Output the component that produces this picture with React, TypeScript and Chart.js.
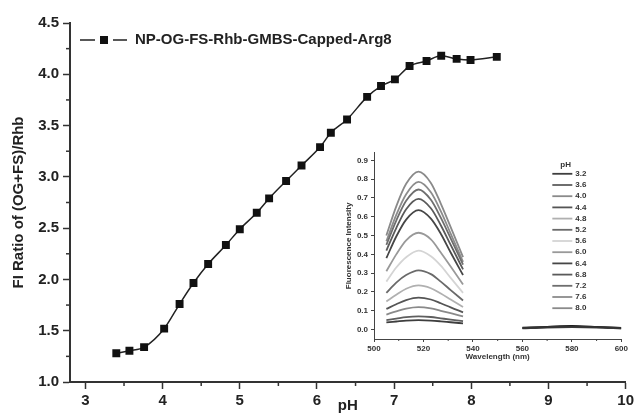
import React, { useEffect, useRef } from 'react';
import { Chart, registerables } from 'chart.js';

Chart.register(...registerables);

const FONT = "'Liberation Sans', Arial, Helvetica, sans-serif";

// ---------- main chart data ----------
const phPoints = [3.4, 3.57, 3.76, 4.02, 4.22, 4.4, 4.59, 4.82, 5.0, 5.22, 5.38, 5.6, 5.8, 6.04, 6.18, 6.39, 6.65, 6.83, 7.01, 7.2, 7.42, 7.61, 7.81, 7.99, 8.33];
const fiRatio = [1.28, 1.305, 1.34, 1.52, 1.76, 1.965, 2.15, 2.335, 2.49, 2.65, 2.79, 2.96, 3.11, 3.29, 3.43, 3.56, 3.78, 3.885, 3.95, 4.08, 4.13, 4.18, 4.15, 4.14, 4.17];
const mainSeriesName = 'NP-OG-FS-Rhb-GMBS-Capped-Arg8';
const mainXTitle = 'pH';
const mainYTitle = 'FI Ratio of (OG+FS)/Rhb';
const mainXMinorTicks = [3.5, 4.5, 5.5, 6.5, 7.5, 8.5, 9.5];
const mainYMinorTicks = [1.25, 1.75, 2.25, 2.75, 3.25, 3.75, 4.25];

// ---------- inset data ----------
const wavelengths = [505, 509, 513, 518, 523, 527, 531, 536];
const spectrumPh32 = [0.038, 0.043, 0.048, 0.05, 0.048, 0.044, 0.039, 0.033];
const spectrumPh36 = [0.05, 0.058, 0.066, 0.07, 0.067, 0.06, 0.053, 0.045];
const spectrumPh40 = [0.08, 0.097, 0.112, 0.12, 0.113, 0.1, 0.087, 0.07];
const spectrumPh44 = [0.11, 0.135, 0.157, 0.17, 0.16, 0.14, 0.118, 0.092];
const spectrumPh48 = [0.15, 0.185, 0.217, 0.235, 0.22, 0.192, 0.16, 0.12];
const spectrumPh52 = [0.195, 0.25, 0.29, 0.315, 0.295, 0.255, 0.21, 0.155];
const spectrumPh56 = [0.255, 0.33, 0.385, 0.42, 0.39, 0.34, 0.275, 0.195];
const spectrumPh60 = [0.31, 0.4, 0.475, 0.515, 0.48, 0.41, 0.335, 0.24];
const spectrumPh64 = [0.38, 0.495, 0.585, 0.635, 0.59, 0.51, 0.41, 0.29];
const spectrumPh68 = [0.42, 0.54, 0.64, 0.695, 0.645, 0.555, 0.45, 0.32];
const spectrumPh72 = [0.45, 0.58, 0.685, 0.745, 0.69, 0.595, 0.485, 0.345];
const spectrumPh76 = [0.47, 0.61, 0.72, 0.785, 0.73, 0.63, 0.51, 0.36];
const spectrumPh80 = [0.5, 0.655, 0.775, 0.84, 0.78, 0.67, 0.545, 0.385];
const insetPhLabels = ['3.2', '3.6', '4.0', '4.4', '4.8', '5.2', '5.6', '6.0', '6.4', '6.8', '7.2', '7.6', '8.0'];
const insetSpectra = [spectrumPh32, spectrumPh36, spectrumPh40, spectrumPh44, spectrumPh48, spectrumPh52, spectrumPh56, spectrumPh60, spectrumPh64, spectrumPh68, spectrumPh72, spectrumPh76, spectrumPh80];
const insetColors = ['#3e3e3e', '#5e5e5e', '#8a8a8a', '#555555', '#b0b0b0', '#6a6a6a', '#d4d4d4', '#999999', '#464646', '#5a5a5a', '#6e6e6e', '#8c8c8c', '#8a8a8a'];
const rhbWavelengths = [560, 570, 580, 590, 600];
const rhbSpectrumA = [0.008, 0.013, 0.016, 0.013, 0.007];
const rhbSpectrumB = [0.006, 0.011, 0.013, 0.011, 0.006];
const rhbSpectrumC = [0.01, 0.015, 0.019, 0.015, 0.009];
const insetXTitle = 'Wavelength (nm)';
const insetYTitle = 'Fluorescence Intensity';
const insetLegendTitle = 'pH';
const insetXMinorTicks = [510, 530, 550, 570, 590];

const mainDecor = {
  id: 'mainDecor',
  afterDraw(chart: any) {
    const ctx = chart.ctx;
    const xs = chart.scales.x;
    const ys = chart.scales.y;
    const a = chart.chartArea;
    ctx.save();
    ctx.strokeStyle = '#333';
    ctx.lineWidth = 1.5;
    for (const v of mainXMinorTicks) {
      const px = xs.getPixelForValue(v);
      ctx.beginPath();
      ctx.moveTo(px, a.bottom);
      ctx.lineTo(px, a.bottom + 4);
      ctx.stroke();
    }
    for (const v of mainYMinorTicks) {
      const py = ys.getPixelForValue(v);
      ctx.beginPath();
      ctx.moveTo(a.left, py);
      ctx.lineTo(a.left - 4, py);
      ctx.stroke();
    }
    // legend
    const ly = a.top + 17;
    ctx.strokeStyle = '#222';
    ctx.lineWidth = 1.5;
    ctx.beginPath();
    ctx.moveTo(a.left + 10, ly);
    ctx.lineTo(a.left + 25, ly);
    ctx.moveTo(a.left + 43, ly);
    ctx.lineTo(a.left + 57, ly);
    ctx.stroke();
    ctx.fillStyle = '#111';
    ctx.fillRect(a.left + 30, ly - 4, 8, 8);
    ctx.font = `bold 15px ${FONT}`;
    ctx.textBaseline = 'middle';
    ctx.textAlign = 'left';
    ctx.fillStyle = '#222';
    ctx.fillText(chart.data.datasets[0].label, a.left + 65, ly);
    ctx.restore();
  },
};

const insetDecor = {
  id: 'insetDecor',
  afterDraw(chart: any) {
    const ctx = chart.ctx;
    const xs = chart.scales.x;
    const a = chart.chartArea;
    ctx.save();
    ctx.strokeStyle = '#444';
    ctx.lineWidth = 1;
    for (const v of insetXMinorTicks) {
      const px = xs.getPixelForValue(v);
      ctx.beginPath();
      ctx.moveTo(px, a.bottom);
      ctx.lineTo(px, a.bottom + 2);
      ctx.stroke();
    }
    const lx = a.right - 69;
    ctx.font = `bold 8px ${FONT}`;
    ctx.textBaseline = 'middle';
    ctx.textAlign = 'left';
    ctx.fillStyle = '#333';
    ctx.fillText(insetLegendTitle, lx + 8, a.top + 12);
    for (let i = 0; i < insetPhLabels.length; i++) {
      const y = a.top + 21 + i * 11.2;
      ctx.strokeStyle = insetColors[i];
      ctx.lineWidth = 1.8;
      ctx.beginPath();
      ctx.moveTo(lx, y);
      ctx.lineTo(lx + 20, y);
      ctx.stroke();
      ctx.fillStyle = '#333';
      ctx.fillText(insetPhLabels[i], lx + 23, y);
    }
    ctx.restore();
  },
};

export default function App() {
  const mainRef = useRef<HTMLCanvasElement>(null);
  const insetRef = useRef<HTMLCanvasElement>(null);

  useEffect(() => {
    const tickFont = { family: FONT, size: 15, weight: 'bold' as const };
    const main = new Chart(mainRef.current!, {
      type: 'line',
      data: {
        datasets: [
          {
            label: mainSeriesName,
            data: phPoints.map((x, i) => ({ x, y: fiRatio[i] })),
            borderColor: '#222',
            borderWidth: 1.5,
            backgroundColor: '#111',
            pointStyle: 'rect',
            pointRadius: 5.6,
            pointBorderWidth: 0,
            pointBackgroundColor: '#111',
            cubicInterpolationMode: 'monotone',
          },
        ],
      },
      options: {
        responsive: false,
        animation: false,
        layout: { padding: { top: 23, right: 11, left: 0, bottom: 0 } },
        plugins: { legend: { display: false }, tooltip: { enabled: false } },
        scales: {
          x: {
            type: 'linear',
            min: 2.8,
            max: 10,
            afterFit: (s: any) => { s.height = 33; },
            ticks: { stepSize: 1, includeBounds: false, autoSkip: false, maxRotation: 0, font: tickFont, color: '#222', padding: 3, callback: (v: any) => String(v) },
            grid: { display: true, drawOnChartArea: false, drawTicks: true, tickLength: 7, tickWidth: 1.5, tickColor: '#333' },
            border: { display: true, color: '#333', width: 2 },
            title: { display: true, text: mainXTitle, font: tickFont, color: '#222', padding: { top: 0, bottom: 0 } },
          },
          y: {
            type: 'linear',
            min: 1,
            max: 4.5,
            afterFit: (s: any) => { s.width = 70; },
            ticks: { stepSize: 0.5, includeBounds: false, font: tickFont, color: '#222', padding: 4, callback: (v: any) => Number(v).toFixed(1) },
            grid: { display: true, drawOnChartArea: false, drawTicks: true, tickLength: 7, tickWidth: 1.5, tickColor: '#333' },
            border: { display: true, color: '#333', width: 2 },
            title: { display: true, text: mainYTitle, font: tickFont, color: '#222', padding: { top: 10, bottom: 0 } },
          },
        },
      },
      plugins: [mainDecor],
    });

    const smallFont = { family: FONT, size: 8, weight: 'bold' as const };
    const spectraSets = insetSpectra.map((arr, i) => ({
      label: insetPhLabels[i],
      data: wavelengths.map((x, j) => ({ x, y: arr[j] })),
      borderColor: insetColors[i],
      borderWidth: 1.8,
      pointRadius: 0,
      cubicInterpolationMode: 'monotone' as const,
    }));
    const rhbSets = [rhbSpectrumA, rhbSpectrumB, rhbSpectrumC].map((arr, i) => ({
      label: 'rhb' + i,
      data: rhbWavelengths.map((x, j) => ({ x, y: arr[j] })),
      borderColor: ['#333', '#444', '#1a1a1a'][i],
      borderWidth: 1.8,
      pointRadius: 0,
      cubicInterpolationMode: 'monotone' as const,
    }));
    const inset = new Chart(insetRef.current!, {
      type: 'line',
      data: { datasets: [...spectraSets, ...rhbSets] },
      options: {
        responsive: false,
        animation: false,
        layout: { padding: { top: 5, right: 6, left: 0, bottom: 0 } },
        plugins: { legend: { display: false }, tooltip: { enabled: false } },
        scales: {
          x: {
            type: 'linear',
            min: 500,
            max: 600,
            afterFit: (s: any) => { s.height = 31; },
            ticks: { stepSize: 20, autoSkip: false, maxRotation: 0, font: smallFont, color: '#333', padding: 2, callback: (v: any) => String(v) },
            grid: { display: true, drawOnChartArea: false, drawTicks: true, tickLength: 3, tickWidth: 1, tickColor: '#444' },
            border: { display: true, color: '#444', width: 1 },
            title: { display: true, text: insetXTitle, font: smallFont, color: '#333', padding: { top: 0, bottom: 8 } },
          },
          y: {
            type: 'linear',
            min: -0.05,
            max: 0.94,
            afterFit: (s: any) => { s.width = 44; },
            ticks: { stepSize: 0.1, includeBounds: false, font: smallFont, color: '#333', padding: 3, callback: (v: any) => Number(v).toFixed(1) },
            grid: { display: true, drawOnChartArea: false, drawTicks: true, tickLength: 3, tickWidth: 1, tickColor: '#444' },
            border: { display: true, color: '#444', width: 1 },
            title: { display: true, text: insetYTitle, font: smallFont, color: '#333', padding: { top: 14, bottom: 0 } },
          },
        },
      },
      plugins: [insetDecor],
    });

    return () => {
      main.destroy();
      inset.destroy();
    };
  }, []);

  return (
    <div style={{ position: 'fixed', left: 0, top: 0, width: 637, height: 415, background: '#fff' }}>
      <canvas ref={mainRef} width={637} height={415} style={{ position: 'absolute', left: 0, top: 0 }} />
      <canvas ref={insetRef} width={300} height={225} style={{ position: 'absolute', left: 330, top: 145 }} />
    </div>
  );
}
